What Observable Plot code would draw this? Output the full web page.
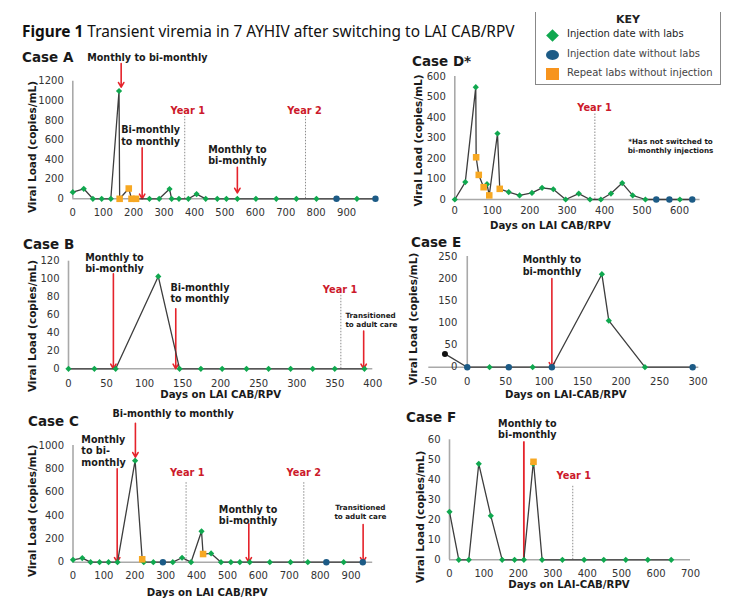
<!DOCTYPE html>
<html>
<head>
<meta charset="utf-8">
<script src="https://cdn.jsdelivr.net/npm/d3@7"></script>
<script src="https://cdn.jsdelivr.net/npm/@observablehq/plot@0.6"></script>
<style>
  html, body { margin: 0; padding: 0; background: #fff; }
  #root { position: relative; width: 747px; height: 609px; overflow: hidden; font-family: "DejaVu Sans", sans-serif; color: #222; }
  .case { position: absolute; font-weight: bold; font-size: 13.5px; line-height: 14px; color: #1a1a1a; white-space: nowrap; }
  #title { position: absolute; left: 22px; top: 21px; font-family: "Noto Sans", sans-serif; font-size: 15.4px; color: #111; white-space: nowrap; }
  #key { position: absolute; left: 535px; top: 12px; width: 184px; height: 72px; border-left: 1px solid #888; border-right: 1px solid #888; border-bottom: 1px solid #888; }
  #key .hd { position: absolute; left: 0; width: 100%; top: 1px; text-align: center; font-weight: bold; font-size: 11px; }
  #key .row { position: absolute; left: 31px; font-size: 10px; white-space: nowrap; color: #444; }
  #key .mk { position: absolute; }
</style>
</head>
<body>
<div id="root"></div>
<script>
// ---------------- DATA ----------------
// Each point: [days on LAI CAB/RPV, viral load copies/mL]
const caseA_labs    = [[0,68],[36,102],[66,0],[95,0],[125,0],[152,1100],[252,0],[284,0],[318,100],[325,0],[349,0],[380,0],[407,48],[437,0],[475,0],[505,0],[541,0],[602,0],[669,0],[735,0],[801,0],[934,0]];
const caseA_noLabs  = [[867,0],[995,0]];
const caseA_repeat  = [[154,0],[184,105],[193,0],[208,0]];
const caseA_arrows  = [{day:159, from:1380, to:1139},{day:228, from:520, to:0},{day:541, from:322, to:60}];
const caseA_years   = [{day:368, top:840, label:"Year 1", labelDay:378, labelVl:900},{day:765, top:840, label:"Year 2", labelDay:762, labelVl:900}];
const caseA_notes   = [
  {day:245, vl:1445, text:"Monthly to bi-monthly", anchor:"middle", small:false},
  {day:159, vl:646, text:"Bi-monthly\nto monthly", anchor:"start", small:false},
  {day:445, vl:450, text:"Monthly to\nbi-monthly", anchor:"start", small:false}
];

const caseB_labs    = [[0,0],[34,0],[62,0],[118,103],[146,0],[174,0],[202,0],[234,0],[263,0],[292,0],[321,0],[350,0],[389,0]];
const caseB_arrows  = [{day:59, from:106, to:0},{day:141, from:67, to:0},{day:388, from:42, to:0}];
const caseB_years   = [{day:358, top:82, label:"Year 1", labelDay:357, labelVl:88}];
const caseB_notes   = [
  {day:22, vl:118, text:"Monthly to\nbi-monthly", anchor:"start", small:false},
  {day:134, vl:84.5, text:"Bi-monthly\nto monthly", anchor:"start", small:false},
  {day:364, vl:55, text:"Transitioned\nto adult care", anchor:"start", small:true}
];

const caseC_labs    = [[0,20],[30,35],[57,0],[86,0],[115,0],[144,0],[201,870],[229,0],[260,0],[323,0],[353,38],[382,0],[416,265],[447,75],[479,0],[511,0],[540,0],[572,0],[637,0],[704,0],[760,0],[876,0]];
const caseC_noLabs  = [[291,0],[820,0],[938,0]];
const caseC_repeat  = [[224,25],[421,70]];
const caseC_arrows  = [{day:143, from:800, to:0},{day:202, from:1191, to:900},{day:569, from:329, to:0},{day:939, from:323, to:0}];
const caseC_years   = [{day:366, top:686, label:"Year 1", labelDay:370, labelVl:766},{day:747, top:686, label:"Year 2", labelDay:747, labelVl:766}];
const caseC_notes   = [
  {day:324, vl:1277, text:"Bi-monthly to monthly", anchor:"middle", small:false},
  {day:27, vl:957, text:"Monthly\nto bi-\nmonthly", anchor:"start", small:false},
  {day:472, vl:407, text:"Monthly to\nbi-monthly", anchor:"start", small:false},
  {day:930, vl:432, text:"Transitioned\nto adult care", anchor:"middle", small:true}
];

const caseD_labs    = [[0,0],[28,85],[56,548],[86,75],[114,322],[144,36],[173,20],[206,32],[233,57],[263,50],[296,0],[331,29],[361,0],[390,0],[417,29],[447,80],[475,20],[509,0],[601,0]];
const caseD_noLabs  = [[538,0],[573,0],[634,0]];
const caseD_repeat  = [[57,206],[64,120],[77,60],[92,20],[120,52]];
const caseD_years   = [{day:374, top:418, label:"Year 1", labelDay:373, labelVl:446}];
const caseD_notes   = [{day:576, vl:265, text:"*Has not switched to\nbi-monthly injections", anchor:"middle", small:true}];

const caseE_before  = [[-29,30]];
const caseE_labs    = [[29,0],[85,0],[175,210],[184,105],[231,0]];
const caseE_noLabs  = [[0,0],[54,0],[110,0],[293,0]];
const caseE_arrows  = [{day:110, from:200, to:0}];
const caseE_notes   = [{day:110, vl:230, text:"Monthly to\nbi-monthly", anchor:"middle", small:false}];

const caseF_labs    = [[0,24],[27,0],[56,0],[85,48],[120,22],[153,0],[189,0],[216,0],[243,48],[269,0],[328,0],[391,0],[448,0],[512,0],[576,0],[644,0]];
const caseF_repeat  = [[244,49]];
const caseF_switch  = [{day:216, from:59, to:0}];
const caseF_years   = [{day:358, top:37, label:"Year 1", labelDay:361, labelVl:42}];
const caseF_notes   = [{day:226, vl:65.5, text:"Monthly to\nbi-monthly", anchor:"middle", small:false}];

const ticksA_x = [0,100,200,300,400,500,600,700,800,900];
const ticksA_y = [0,200,400,600,800,1000,1200];
const ticksB_x = [0,50,100,150,200,250,300,350,400];
const ticksB_y = [0,20,40,60,80,100,120];
const ticksC_x = [0,100,200,300,400,500,600,700,800,900];
const ticksC_y = [0,200,400,600,800,1000];
const ticksD_x = [0,100,200,300,400,500,600];
const ticksD_y = [0,100,200,300,400,500,600];
const ticksE_x = [-50,0,50,100,150,200,250,300];
const ticksE_y = [0,50,100,150,200,250];
const ticksF_x = [0,100,200,300,400,500,600,700];
const ticksF_y = [0,10,20,30,40,50,60];

const yTitle = "Viral Load (copies/mL)";

// ---------------- STYLE ----------------
const GREEN = "#10a84f", BLUE = "#1c5b86", ORANGE = "#f7a823", RED = "#e5232b", YEAR_RED = "#cc1a2b";
const LINE = "#3d3d3d", AXIS = "#a9a9a9";
const fmt = d => String(d);

const panels = [
  {name:"Case A", titlePos:[22,50], box:{left:0,top:40,w:392,h:185}, frame:{x0:72.3,x1:378,yTop:80.7,yBottom:198.3},
   xDomain:[0,1005], yDomain:[0,1200], xTicks:ticksA_x, yTicks:ticksA_y, xPad:10.4,
   labs:caseA_labs, noLabs:caseA_noLabs, repeat:caseA_repeat, arrows:caseA_arrows, years:caseA_years, notes:caseA_notes,
   yT:{dx:-40.6, dy:7}, xT:null},
  {name:"Case B", titlePos:[23,237], box:{left:0,top:230,w:402,h:175}, frame:{x0:68,x1:372.3,yTop:260.7,yBottom:368.3},
   xDomain:[0,400], yDomain:[0,120], xTicks:ticksB_x, yTicks:ticksB_y, xPad:10.8,
   labs:caseB_labs, arrows:caseB_arrows, years:caseB_years, notes:caseB_notes,
   yT:{dx:-36.3, dy:11}, xT:{text:"Days on LAI CAB/RPV", dx:0, dy:26}},
  {name:"Case C", titlePos:[28,414], box:{left:0,top:400,w:400,h:209}, frame:{x0:72.5,x1:372.2,yTop:445,yBottom:561.7},
   xDomain:[0,970], yDomain:[0,1000], xTicks:ticksC_x, yTicks:ticksC_y, xPad:9.7,
   labs:caseC_labs, noLabs:caseC_noLabs, repeat:caseC_repeat, arrows:caseC_arrows, years:caseC_years, notes:caseC_notes,
   yT:{dx:-40.8, dy:7}, xT:{text:"Days on LAI CAB/RPV", dx:-15.6, dy:31}},
  {name:"Case D*", titlePos:[412,54], box:{left:400,top:40,w:347,h:190}, frame:{x0:454.3,x1:699.6,yTop:76,yBottom:199},
   xDomain:[0,655], yDomain:[0,600], xTicks:ticksD_x, yTicks:ticksD_y, xPad:7.5,
   labs:caseD_labs, noLabs:caseD_noLabs, repeat:caseD_repeat, years:caseD_years, notes:caseD_notes,
   yT:{dx:-36, dy:2.5}, xT:{text:"Days on LAI CAB/RPV", dx:-27, dy:26}},
  {name:"Case E", titlePos:[411,235], box:{left:400,top:230,w:347,h:175}, frame:{x0:428.3,x1:698.3,yTop:256,yBottom:366.7},
   xDomain:[-50,301], yDomain:[0,250], xTicks:ticksE_x, yTicks:ticksE_y, xPad:10.4, yTicksAtZero:true,
   before:caseE_before, labs:caseE_labs, noLabs:caseE_noLabs, arrows:caseE_arrows, notes:caseE_notes,
   yT:{dx:-15, dy:7}, xT:{text:"Days on LAI-CAB/RPV", dx:2, dy:27.6}},
  {name:"Case F", titlePos:[406,410], box:{left:400,top:405,w:347,h:204}, frame:{x0:449,x1:690,yTop:439.3,yBottom:559.3},
   xDomain:[0,700], yDomain:[0,60], xTicks:ticksF_x, yTicks:ticksF_y, xPad:10.4,
   labs:caseF_labs, repeat:caseF_repeat, switchLines:caseF_switch, years:caseF_years, notes:caseF_notes,
   yT:{dx:-29, dy:17}, xT:{text:"Days on LAI-CAB/RPV", dx:-1, dy:25}}
];

function makePanel(p) {
  const {box, frame} = p;
  const before = p.before || [], labs = p.labs || [], noLabs = p.noLabs || [], repeat = p.repeat || [];
  const points = [...before, ...labs, ...noLabs, ...repeat].sort((a, b) => a[0] - b[0]);
  const X = d => d[0], Y = d => d[1];
  const marks = [
    Plot.ruleY([0], {stroke: AXIS, strokeWidth: 1.6}),
    Plot.ruleX([0], {y1: () => p.yDomain[0], y2: () => p.yDomain[1], stroke: AXIS, strokeWidth: 1.6}),
    Plot.axisX(p.xTicks, {tickSize: 0, tickPadding: p.xPad, tickFormat: fmt, label: null, fill: "#333"}),
  ];
  if (p.yTicksAtZero) {
    marks.push(Plot.text(p.yTicks, {x: () => 0, y: d => d, text: fmt, textAnchor: "end", dx: -10, fill: "#333"}));
  } else {
    marks.push(Plot.axisY(p.yTicks, {tickSize: 0, tickPadding: 9, tickFormat: fmt, label: null, fill: "#333"}));
  }
  marks.push(
    Plot.ruleX(p.years || [], {x: "day", y1: () => 0, y2: "top", stroke: "#8c8c8c", strokeWidth: 1, strokeDasharray: "1.5,1.5"}),
    Plot.text(p.years || [], {x: "labelDay", y: "labelVl", text: "label", fill: YEAR_RED, fontWeight: "bold", fontSize: 9.8}),
    Plot.arrow(p.arrows || [], {x1: "day", x2: "day", y1: "from", y2: "to", stroke: RED, strokeWidth: 1.6, headLength: 5}),
    Plot.ruleX(p.switchLines || [], {x: "day", y1: "from", y2: "to", stroke: RED, strokeWidth: 1.8}),
    Plot.line(points, {x: X, y: Y, stroke: LINE, strokeWidth: 1.3}),
    Plot.dot(before, {x: X, y: Y, r: 3, fill: "#111", stroke: "none"}),
    Plot.dot(labs, {x: X, y: Y, symbol: "diamond2", r: 2.8, fill: GREEN, stroke: "none"}),
    Plot.dot(noLabs, {x: X, y: Y, r: 3.2, fill: BLUE, stroke: "none"}),
    Plot.dot(repeat, {x: X, y: Y, symbol: "square", r: 3.7, fill: ORANGE, stroke: "none"})
  );
  for (const anchor of ["start", "middle"]) {
    for (const small of [false, true]) {
      const sub = (p.notes || []).filter(n => n.anchor === anchor && n.small === small);
      if (!sub.length) continue;
      marks.push(Plot.text(sub, {x: "day", y: "vl", text: "text", textAnchor: anchor, lineAnchor: "middle",
        fontWeight: "bold", fontSize: small ? 7.2 : 9.6, lineHeight: small ? 1.3 : 1.2, fill: "#1a1a1a"}));
    }
  }
  marks.push(Plot.text([yTitle], {frameAnchor: "left", rotate: -90, dx: p.yT.dx, dy: p.yT.dy, text: d => d,
    textAnchor: "middle", lineAnchor: "middle", fontWeight: "bold", fontSize: 10.5, fill: "#1a1a1a"}));
  if (p.xT) {
    marks.push(Plot.text([p.xT.text], {frameAnchor: "bottom", dx: p.xT.dx, dy: p.xT.dy, text: d => d,
      textAnchor: "middle", lineAnchor: "middle", fontWeight: "bold", fontSize: 10.2, fill: "#1a1a1a"}));
  }
  const svg = Plot.plot({
    width: box.w,
    height: box.h,
    marginLeft: frame.x0 - box.left,
    marginRight: box.left + box.w - frame.x1,
    marginTop: frame.yTop - box.top,
    marginBottom: box.top + box.h - frame.yBottom,
    x: {domain: p.xDomain, axis: null},
    y: {domain: p.yDomain, axis: null},
    style: {fontFamily: "DejaVu Sans, sans-serif", fontSize: "10px", color: "#333", background: "transparent", overflow: "visible"},
    marks
  });
  svg.style.position = "absolute";
  svg.style.left = box.left + "px";
  svg.style.top = box.top + "px";
  svg.style.background = "transparent";
  svg.style.overflow = "visible";
  svg.style.maxWidth = "none";
  return svg;
}

const root = document.getElementById("root");
for (const p of panels) {
  root.appendChild(makePanel(p));
  const t = document.createElement("div");
  t.className = "case";
  t.style.left = p.titlePos[0] + "px";
  t.style.top = p.titlePos[1] + "px";
  t.textContent = p.name;
  root.appendChild(t);
}

// Title
const title = document.createElement("div");
title.id = "title";
title.innerHTML = "<b>Figure 1</b> Transient viremia in 7 AYHIV after switching to LAI CAB/RPV";
root.appendChild(title);

// Key
const legendItems = [
  {label: "Injection date with labs", shape: "diamond", color: GREEN, y: 35, text: "#1e1e1e"},
  {label: "Injection date without labs", shape: "circle", color: BLUE, y: 55, text: "#444"},
  {label: "Repeat labs without injection", shape: "square", color: "#f7941d", y: 74, text: "#444"}
];
const key = document.createElement("div");
key.id = "key";
key.innerHTML = '<div class="hd">KEY</div>';
for (const it of legendItems) {
  const cy = it.y - 12;
  const mk = document.createElement("div");
  mk.className = "mk";
  if (it.shape === "diamond") {
    Object.assign(mk.style, {left: (16 - 4.5) + "px", top: (cy - 4.5) + "px", width: "9px", height: "9px", background: it.color, transform: "rotate(45deg)"});
  } else if (it.shape === "circle") {
    Object.assign(mk.style, {left: (16 - 6.5) + "px", top: (cy - 5) + "px", width: "13px", height: "10px", background: it.color, borderRadius: "50%"});
  } else {
    Object.assign(mk.style, {left: (16 - 6.5) + "px", top: (cy - 6) + "px", width: "13px", height: "12px", background: it.color});
  }
  key.appendChild(mk);
  const row = document.createElement("div");
  row.className = "row";
  row.style.top = (cy - 7) + "px";
  row.style.color = it.text;
  row.textContent = it.label;
  key.appendChild(row);
}
root.appendChild(key);
</script>
</body>
</html>
